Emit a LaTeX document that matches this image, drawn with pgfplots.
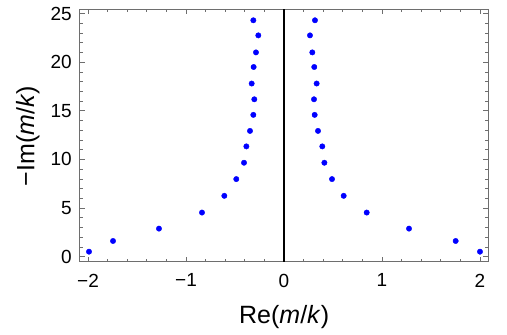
\documentclass[border=0pt]{standalone}
\usepackage{fontspec}
\setmainfont{Liberation Sans}
\usepackage{pgfplots}
\pgfplotsset{compat=1.18}
\definecolor{framegray}{RGB}{110,110,110}
\begin{document}
\begin{tikzpicture}[x=1pt,y=1pt]
\path[use as bounding box] (0,0) rectangle (507,335);
\begin{axis}[
  at={(80pt,73.3pt)}, anchor=south west,
  width=408.3pt, height=252.7pt, scale only axis,
  xmin=-2.082, xmax=2.085, ymin=-0.51, ymax=25.46,
  xtick={-2,-1,0,1,2}, xticklabels={−2,−1,0,1,2},
  ytick={0,5,10,15,20,25},
  minor x tick num=4, minor y tick num=4,
  tick align=inside,
  major tick length=5pt, minor tick length=3pt,
  tick style={framegray, line width=0.7pt},
  axis line style={framegray, line width=1pt},
  /pgf/number format/assume math mode=true,
  ticklabel style={font=\fontsize{19}{21}\selectfont, text=black, inner sep=0pt},
  xticklabel style={anchor=north, yshift=-12pt},
  yticklabel style={anchor=east, xshift=-8pt},
  label style={font=\fontsize{25}{27}\selectfont},
  xlabel={Re(\textit{m}/\textit{k})},
  ylabel={−Im(\textit{m}/\textit{k})},
  xlabel style={at={(axis description cs:0.5,-0.2176)}, anchor=center},
  ylabel style={at={(axis description cs:-0.1274,0.497)}, anchor=center},
  clip=true,
]
\addplot[black, line width=1.4pt, forget plot] coordinates {(0,-1) (0,27)};
\addplot[only marks, mark=*, mark size=2.7pt, color=blue, mark options={draw=blue, fill=blue}] coordinates {
(2.00,0.52) (1.752,1.62) (1.276,2.89) (0.844,4.54) (0.609,6.26) (0.490,7.98)
(0.412,9.66) (0.391,11.34) (0.347,12.93) (0.313,14.58) (0.306,16.18)
(0.333,17.80) (0.309,19.50) (0.289,21.00) (0.265,22.75) (0.316,24.30)
(-1.99,0.52) (-1.745,1.62) (-1.276,2.89) (-0.837,4.54) (-0.609,6.26) (-0.487,7.98)
(-0.408,9.66) (-0.384,11.34) (-0.347,12.93) (-0.313,14.58) (-0.303,16.18)
(-0.330,17.80) (-0.310,19.50) (-0.286,21.00) (-0.262,22.75) (-0.313,24.30)
};
\end{axis}
\end{tikzpicture}
\end{document}
